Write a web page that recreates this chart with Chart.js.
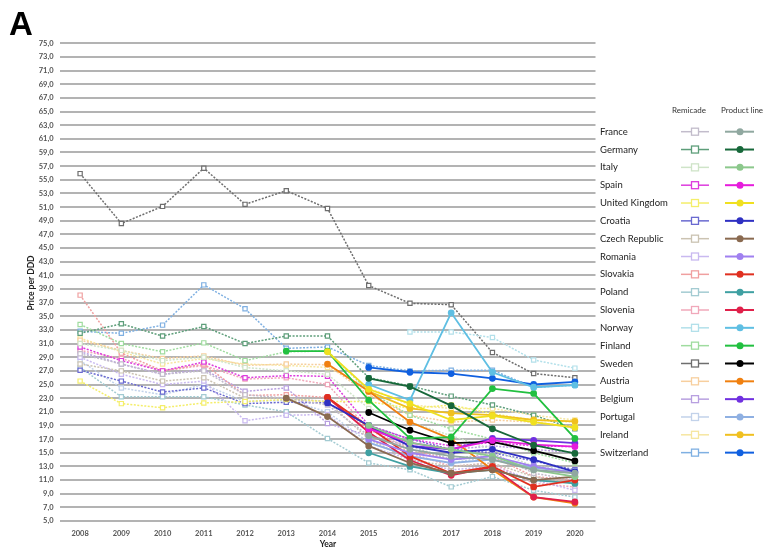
<!DOCTYPE html>
<html>
<head>
<meta charset="utf-8">
<script src="https://cdn.jsdelivr.net/npm/chart.js@4.4.1/dist/chart.umd.min.js"></script>
<style>
  html, body { margin: 0; padding: 0; background: #fff; }
  #wrap { width: 765px; height: 549px; position: relative; }
</style>
</head>
<body>
<div id="wrap"><canvas id="chart" width="765" height="549"></canvas></div>
<script>
const years = ["2008", "2009", "2010", "2011", "2012", "2013", "2014", "2015", "2016", "2017", "2018", "2019", "2020"]

const countries = [
  "France", "Germany", "Italy", "Spain", "United Kingdom", "Croatia", "Czech Republic",
  "Romania", "Slovakia", "Poland", "Slovenia", "Norway", "Finland", "Sweden",
  "Austria", "Belgium", "Portugal", "Ireland", "Switzerland",
]

const remicadeColors = [
  "#c2bccb", "#5e9e7a", "#cfe4c8", "#dd3cdd", "#f4ee6a", "#6a6ad0", "#cbc3b2",
  "#c9b9f0", "#f0a0a0", "#a3cbd2", "#f0a8ba", "#b2e0ea", "#9fdc9f", "#6e6e6e",
  "#f7cf9e", "#b8a0e0", "#c2d2ea", "#f6e6a0", "#7fb0e2",
]

const productColors = [
  "#90a8a0", "#17683a", "#8cc88c", "#e61cdc", "#f0e020", "#2f30c2", "#8a6a50",
  "#a080f0", "#e03020", "#3fa0a2", "#e0204a", "#5fbfe3", "#22c040", "#000000",
  "#f08010", "#7030e0", "#8fb0e2", "#f0c020", "#1060e0",
]

// Remicade price per DDD, 2008-2020
const franceRemicade = [29.5, 28.0, 26.5, 27.0, 23.5, 23.0, 22.0, 17.5, 16.0, 14.0, 15.0, 12.0, 11.0]
const germanyRemicade = [32.5, 33.9, 32.1, 33.5, 31.0, 32.1, 32.1, 26.0, 24.8, 23.3, 22.0, 20.5, 18.5]
const italyRemicade = [31.0, 30.0, 28.5, 29.0, 27.5, 27.0, 26.5, 21.5, 19.5, 17.5, 15.5, 13.0, 12.0]
const spainRemicade = [30.5, 28.5, 27.0, 28.3, 26.0, 26.3, 26.2, 19.0, 17.0, 16.0, 16.5, 16.0, 15.9]
const ukRemicade = [25.5, 22.2, 21.6, 22.3, 22.5, 22.8, 22.5, 22.5, 21.5, 22.0, 20.7, 19.8, 19.5]
const croatiaRemicade = [27.1, 25.5, 23.9, 24.5, 22.2, 22.4, 22.3, 19.0, 17.0, 15.5, 15.0, 13.8, 12.5]
const czechRemicade = [28.0, 27.0, 25.5, 26.0, 23.0, 23.0, 22.5, 17.0, 14.0, 13.0, 13.5, 11.5, 10.5]
const romaniaRemicade = [29.0, 26.5, 25.0, 25.5, 19.7, 20.5, 20.6, 16.0, 14.0, 12.5, 13.0, 11.0, 9.5]
const slovakiaRemicade = [38.1, 29.6, 27.0, 28.0, 23.4, 23.5, 23.1, 18.5, 15.5, 14.0, 14.5, 11.5, 11.0]
const polandRemicade = [27.5, 23.2, 23.2, 23.2, 22.0, 21.0, 17.1, 13.5, 12.5, 10.0, 11.5, 9.5, 8.5]
const sloveniaRemicade = [30.0, 28.8, 27.0, 27.8, 25.8, 26.0, 25.0, 18.5, 15.0, 13.0, 13.5, 10.5, 10.0]
const norwayRemicade = [null, null, null, null, null, null, null, null, 32.7, 32.7, 31.9, 28.6, 27.4]
const finlandRemicade = [33.8, 31.0, 29.8, 31.1, 28.5, 29.8, 29.9, 24.0, 20.5, 18.5, 17.0, 15.0, 13.5]
const swedenRemicade = [55.9, 48.6, 51.1, 56.7, 51.4, 53.4, 50.8, 39.5, 36.9, 36.7, 29.7, 26.6, 26.0]
const austriaRemicade = [31.5, 30.0, 28.8, 29.2, 27.8, 28.0, 27.9, 23.5, 20.5, 19.5, 19.8, 19.5, 18.8]
const belgiumRemicade = [29.8, 28.0, 26.5, 27.2, 24.0, 24.5, 19.3, 17.5, 16.0, 15.5, 16.0, 15.5, 15.0]
const portugalRemicade = [28.5, 24.5, 23.5, 25.0, 22.5, 22.7, 21.0, 16.5, 14.5, 13.5, 14.5, 13.0, 12.5]
const irelandRemicade = [31.8, 29.8, 28.0, 28.8, 28.0, 27.8, 27.5, 24.5, 22.0, 21.5, 21.5, 20.5, 19.8]
const switzerlandRemicade = [32.8, 32.5, 33.7, 39.6, 36.1, 30.3, 30.5, 27.8, 27.0, 27.1, 27.1, 24.6, 24.9]

// Product line (Remicade + biosimilars) price per DDD
const franceProduct = [null, null, null, null, null, null, null, 17.5, 15.5, 14.5, 14.0, 12.5, 12.0]
const germanyProduct = [null, null, null, null, null, null, null, 25.9, 24.7, 21.9, 18.5, 16.1, 14.9]
const italyProduct = [null, null, null, null, null, null, null, 19.0, 16.5, 15.5, 14.5, 12.5, 11.5]
const spainProduct = [null, null, null, null, null, null, null, 18.5, 16.5, 15.5, 16.8, 16.2, 15.9]
const ukProduct = [null, null, null, null, null, null, 29.8, 24.3, 22.2, 19.8, 20.4, 19.5, 18.7]
const croatiaProduct = [null, null, null, null, null, null, 22.3, 19.0, 16.0, 15.0, 15.5, 14.0, 12.2]
const czechProduct = [null, null, null, null, null, 23.0, 20.3, 16.0, 13.5, 12.0, 12.5, 11.0, 11.5]
const romaniaProduct = [null, null, null, null, null, null, null, 17.0, 15.0, 14.0, 14.5, 13.0, 12.0]
const slovakiaProduct = [null, null, null, null, null, null, 23.1, 18.8, 14.5, 12.0, 13.0, 10.0, 11.0]
const polandProduct = [null, null, null, null, null, null, null, 15.0, 13.0, 12.0, 12.5, 11.0, 10.5]
const sloveniaProduct = [null, null, null, null, null, null, 23.1, 18.0, 13.9, 11.7, 12.9, 8.5, 7.8]
const norwayProduct = [null, null, null, null, null, null, null, 25.0, 22.7, 35.5, 26.8, 24.6, 24.9]
const finlandProduct = [null, null, null, null, null, 29.9, 29.9, 22.7, 17.1, 17.3, 24.4, 23.7, 17.1]
const swedenProduct = [null, null, null, null, null, null, null, 20.9, 18.3, 16.4, 16.6, 15.3, 13.8]
const austriaProduct = [null, null, null, null, null, null, 28.0, 24.0, 19.5, 17.0, 12.5, 8.5, 7.6]
const belgiumProduct = [null, null, null, null, null, null, null, 18.8, 16.0, 15.5, 17.1, 16.8, 16.4]
const portugalProduct = [null, null, null, null, null, null, null, 16.5, 14.5, 13.5, 14.0, 12.8, 12.2]
const irelandProduct = [null, null, null, null, null, null, null, 24.0, 21.5, 20.8, 20.5, 19.8, 19.6]
const switzerlandProduct = [null, null, null, null, null, null, null, 27.5, 26.8, 26.6, 25.9, 25.0, 25.4]

const yTicks = { min: 5, max: 75, step: 2 }

const remicadeSeries = [
  franceRemicade, germanyRemicade, italyRemicade, spainRemicade, ukRemicade, croatiaRemicade,
  czechRemicade, romaniaRemicade, slovakiaRemicade, polandRemicade, sloveniaRemicade, norwayRemicade,
  finlandRemicade, swedenRemicade, austriaRemicade, belgiumRemicade, portugalRemicade,
  irelandRemicade, switzerlandRemicade,
]
const productSeries = [
  franceProduct, germanyProduct, italyProduct, spainProduct, ukProduct, croatiaProduct,
  czechProduct, romaniaProduct, slovakiaProduct, polandProduct, sloveniaProduct, norwayProduct,
  finlandProduct, swedenProduct, austriaProduct, belgiumProduct, portugalProduct,
  irelandProduct, switzerlandProduct,
]

const FONT = "Lato, 'Liberation Sans', sans-serif"

const datasets = []
countries.forEach((country, i) => {
  datasets.push({
    label: country + " product line",
    data: productSeries[i],
    borderColor: productColors[i],
    backgroundColor: productColors[i],
    borderWidth: 1.8,
    pointStyle: "circle",
    pointRadius: 2.5,
    order: 1,
  })
})
countries.forEach((country, i) => {
  datasets.push({
    label: country + " Remicade",
    data: remicadeSeries[i],
    borderColor: remicadeColors[i],
    backgroundColor: "#ffffff",
    borderWidth: 1.5,
    borderDash: [2, 1.5],
    pointStyle: "rect",
    pointRadius: 3,
    pointBorderWidth: 1.2,
    order: 2,
  })
})

// side legend with two marker columns, plus panel letter and axis titles
const sideLegend = {
  id: "sideLegend",
  afterDraw(chart) {
    const ctx = chart.ctx
    ctx.save()

    ctx.fillStyle = "#000"
    ctx.font = "bold 33px 'Liberation Sans', Arial, sans-serif"
    ctx.textAlign = "left"
    ctx.textBaseline = "alphabetic"
    ctx.fillText("A", 9, 35)

    ctx.font = "bold 8.5px " + FONT
    ctx.fillStyle = "#222"
    ctx.textAlign = "center"
    ctx.fillText("Year", 328, 547)

    ctx.save()
    ctx.translate(31, 283)
    ctx.rotate(-Math.PI / 2)
    ctx.textBaseline = "middle"
    ctx.fillText("Price per DDD", 0, 0)
    ctx.restore()

    ctx.font = "8px " + FONT
    ctx.fillStyle = "#333"
    ctx.textBaseline = "middle"
    ctx.fillText("Remicade", 689, 110)
    ctx.fillText("Product line", 742, 110)

    const y0 = 131.7
    const step = 17.83
    countries.forEach((country, i) => {
      const y = y0 + i * step
      ctx.font = "9.5px " + FONT
      ctx.fillStyle = "#222"
      ctx.textAlign = "left"
      ctx.fillText(country, 600, y)

      ctx.lineWidth = 1.5
      ctx.strokeStyle = remicadeColors[i]
      ctx.beginPath()
      ctx.moveTo(681, y)
      ctx.lineTo(709, y)
      ctx.stroke()
      ctx.fillStyle = "#fff"
      ctx.fillRect(691.5, y - 3.5, 7, 7)
      ctx.lineWidth = 1.3
      ctx.strokeRect(691.5, y - 3.5, 7, 7)

      ctx.lineWidth = 2
      ctx.strokeStyle = productColors[i]
      ctx.beginPath()
      ctx.moveTo(725, y)
      ctx.lineTo(754, y)
      ctx.stroke()
      ctx.fillStyle = productColors[i]
      ctx.beginPath()
      ctx.arc(740, y, 3.5, 0, Math.PI * 2)
      ctx.fill()
    })
    ctx.restore()
  },
}

new Chart(document.getElementById("chart"), {
  type: "line",
  data: { labels: years, datasets },
  options: {
    responsive: false,
    animation: false,
    devicePixelRatio: 1,
    layout: { padding: { left: 0, right: 169.5, top: 43.3, bottom: 8 } },
    plugins: {
      legend: { display: false },
      tooltip: { enabled: false },
    },
    scales: {
      x: {
        offset: true,
        grid: { display: false },
        border: { display: false },
        ticks: {
          color: "#555",
          font: { family: FONT, size: 7.5, weight: "bold" },
          padding: 0,
          maxRotation: 0,
        },
        afterFit: (scale) => { scale.height = 20 },
      },
      y: {
        min: yTicks.min,
        max: yTicks.max,
        border: { display: false },
        grid: { color: "#b3b3b3", lineWidth: 2, drawTicks: false },
        ticks: {
          stepSize: yTicks.step,
          color: "#555",
          font: { family: FONT, size: 7.5, weight: "bold" },
          padding: 6,
          callback: (value) => value.toFixed(1).replace(".", ","),
        },
        afterFit: (scale) => { scale.width = 59.5 },
      },
    },
  },
  plugins: [sideLegend],
})
</script>
</body>
</html>
